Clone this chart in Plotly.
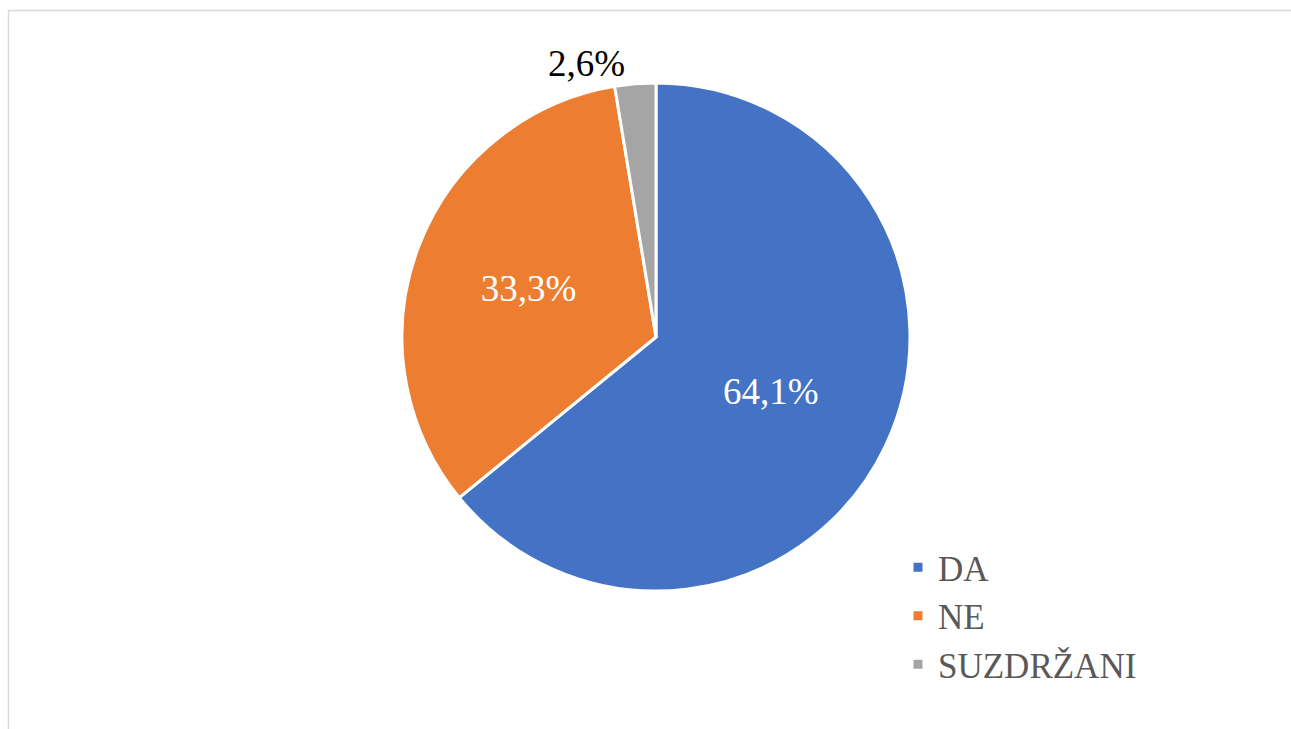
import plotly.graph_objects as go

labels = ["DA", "NE", "SUZDRŽANI"]
values = [64.1, 33.3, 2.6]
text_labels = ["64,1%", "33,3%", "2,6%"]
colors = ["#4472C4", "#ED7D31", "#A5A5A5"]

W, H = 1291, 729
cx, cy, r = 656, 337, 254
SERIF = "Liberation Serif"

fig = go.Figure(go.Pie(
    labels=labels,
    values=values,
    text=text_labels,
    textinfo="text",
    textposition=["inside", "inside", "outside"],
    insidetextorientation="horizontal",
    sort=False,
    direction="clockwise",
    rotation=0,
    marker=dict(colors=colors, line=dict(color="white", width=3)),
    textfont=dict(family=SERIF, size=37),
    insidetextfont=dict(color="white", family=SERIF, size=37),
    outsidetextfont=dict(color="black", family=SERIF, size=37),
    domain=dict(x=[(cx - r) / W, (cx + r) / W], y=[1 - (cy + r) / H, 1 - (cy - r) / H]),
    hoverinfo="label+percent",
))

fig.update_layout(
    width=W, height=H,
    margin=dict(l=0, r=0, t=0, b=0),
    paper_bgcolor="white",
    font=dict(family=SERIF),
    separators=",.",
    showlegend=True,
    legend=dict(
        x=898 / W, y=1 - 538 / H, xanchor="left", yanchor="top",
        font=dict(family=SERIF, size=35, color="#595959"),
        tracegroupgap=0,
    ),
    shapes=[dict(type="rect", xref="paper", yref="paper",
                 x0=8.5 / W, x1=1.02, y0=-0.02, y1=1 - 10.5 / H,
                 line=dict(color="#D9D9D9", width=1.5))],
)

fig.write_html("out.html")
